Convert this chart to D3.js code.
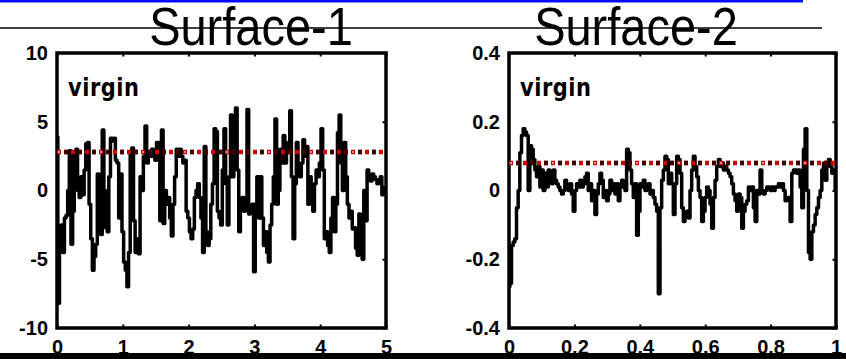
<!DOCTYPE html>
<html>
<head>
<meta charset="utf-8">
<script src="https://cdn.jsdelivr.net/npm/d3@7"></script>
<style>
  body { margin: 0; background: #fff; }
  svg { display: block; }
  .tick text { font-family: "Liberation Sans", Arial, sans-serif; font-weight: bold; font-size: 20px; fill: #000; }
</style>
</head>
<body>
<svg width="846" height="359"></svg>
<script>
const width = 846;
const height = 359;

// surface-1 profile, 0..5, evenly sampled
const surface1 = [
  3.9, -8.2, -3, -2.5, -4.5, -2, -1.8, 0, 2.9, -3.9,
  -1.5, 2.8, 3, 0, -0.5, 1, -0.3, 1.5, 3.4, 3.5,
  -1, -3.5, -5.8, -4.8, -3.9, 1.2, -2, -3.2, 4.4, 0,
  -2.7, -3, 1, 3.8, 3.6, 3.8, 2.2, 2, -2, 1.2,
  -3, -5.2, -5.8, -7, -4.5, 2.8, 3.1, -2.2, -4.5, -3.5,
  -4.6, 1, 0, 2.5, 4.7, 2, 2.7, 2.5, 3, 2.5,
  2.2, 3.5, 3.5, -2.2, 4.4, -2.4, 0, -1, -0.5, -2,
  -3.3, -1, 1, 3, 2.5, 3, 2.5, 2, 2.2, -1.5,
  -2, -3, -3.5, -2.8, -0.5, 0, 0.5, -0.5, -2, -4.5,
  3.2, -3, -4, -3.5, -1, 0.5, 4.5, 4.3, -1.5, -2,
  -2.5, 1.5, 4.5, 0.5, -2.5, 1, 5.5, 1, 2.5, 6,
  1.5, -3, -1, -0.5, -1.5, -1, 5.9, -1.7, -1.5, -1,
  -5.9, -1, 1, -2, 1, -2, -4, -3, -4.5, -5.2,
  -2.5, -1, 1, 5.2, -1, 0, 3, 2, 4, 2,
  3, 3.5, 5.8, 1, -3.5, 0.5, 3.5, 1.5, 1, 2,
  3.7, 2.5, 3.2, -1, 1, 0, -1.5, 0.5, 1.5, 1,
  2, 4.5, 1.5, -3.5, -3, -4, -4.5, -2, -0.5, -3,
  -1, 4.2, 5.5, 2, 0, 3.5, 1, -1, -2, -1.5,
  -2.8, -2.7, -4.2, -4.7, -1.7, -3, -5, 0, -2.2, 1.5,
  1, 0.7, 1.2, 1, 0.8, 0.5, 0.8, 1, -0.3, 0.2,
  0
];

// surface-2 profile, 0..1, evenly sampled
const surface2 = [
  -0.28, -0.27, -0.16, -0.15, -0.14, -0.05, 0, 0.11, 0.16, 0.18,
  0.17, 0.16, 0, 0.13, 0.12, 0.09, 0.06, 0.04, 0.07, 0.01,
  0.06, 0, 0.05, 0.01, 0.06, 0.05, 0.02, 0.06, 0.03, 0.02,
  0.01, 0, -0.01, 0, 0.03, 0.01, 0, 0.02, -0.01, -0.06,
  0, 0.02, 0.01, 0.03, 0.01, 0.02, 0.04, 0.05, 0, 0.02,
  -0.03, 0, -0.07, -0.01, 0.02, 0.05, 0.03, -0.02, 0, -0.03,
  -0.01, 0.03, 0, 0.02, -0.01, 0.02, -0.03, 0.01, 0.03, 0.01,
  0, 0.12, 0.11, 0.06, 0.02, -0.02, 0.02, -0.13, -0.06, 0.02,
  0.01, 0.03, 0, 0.01, 0.02, -0.01, 0, -0.02, -0.04, -0.06,
  -0.3, -0.05, 0.03, 0.06, 0.1, 0.09, 0.02, 0.05, 0.02, -0.07,
  0.02, 0.1, 0.09, 0.05, -0.05, -0.09, -0.07, -0.06, -0.08, 0,
  0.06, 0.1, 0.07, 0.04, 0, -0.02, -0.09, -0.06, -0.02, 0.01,
  0, -0.04, -0.11, -0.02, 0.03, 0.07, 0.09, 0.07, 0.08, 0.06,
  0.07, 0.06, 0.05, 0.04, 0.02, -0.01, -0.03, -0.06, -0.01, -0.02,
  -0.11, -0.06, -0.04, -0.03, 0.01, 0, 0.01, -0.05, -0.09, 0,
  -0.01, 0.06, 0, -0.01, 0, 0.01, 0.01, 0, 0.01, 0,
  0.01, 0.01, 0.02, 0.01, 0.02, 0, -0.03, -0.02, -0.02, -0.09,
  0.05, 0.06, 0.06, 0.05, 0.06, 0.01, -0.05, 0.12, 0.18, 0,
  -0.18, -0.2, -0.12, -0.1, -0.07, -0.05, -0.02, 0, 0.06, 0.08,
  0.03, 0.08, 0.09, 0.07, 0.05, 0.06, 0
];

const titles = ["Surface-1", "Surface-2"];
const labels = ["virgin", "virgin"];
const means = [2.8, 0.08];
const xTicks1 = [0, 1, 2, 3, 4, 5];
const yTicks1 = [-10, -5, 0, 5, 10];
const xTicks2 = [0, 0.2, 0.4, 0.6, 0.8, 1];
const yTicks2 = [-0.4, -0.2, 0, 0.2, 0.4];

const panels = [
  { values: surface1, xMax: 5, yMax: 10, xTicks: xTicks1, yTicks: yTicks1, left: 57, right: 386, titleX: 251 },
  { values: surface2, xMax: 1, yMax: 0.4, xTicks: xTicks2, yTicks: yTicks2, left: 509, right: 836, titleX: 636 }
];

const plotTop = 53, plotBottom = 328;

const svg = d3.select("svg");

// header rules
svg.append("rect")
  .attr("x", 0).attr("y", 0)
  .attr("width", 803).attr("height", 2.5)
  .attr("fill", "#0a0aff");

svg.append("line")
  .attr("x1", 0).attr("x2", 822)
  .attr("y1", 28).attr("y2", 28)
  .attr("stroke", "#000")
  .attr("stroke-width", 1.5);

panels.forEach((p, k) => {
  const x = d3.scaleLinear().domain([0, p.xMax]).range([p.left, p.right]);
  const y = d3.scaleLinear().domain([-p.yMax, p.yMax]).range([plotBottom, plotTop]);
  const dx = p.xMax / (p.values.length - 1);

  const g = svg.append("g");

  // title, slightly condensed like the scanned original
  svg.append("text")
    .attr("transform", `translate(${p.titleX},45) scale(0.94,1.06)`)
    .attr("text-anchor", "middle")
    .style("font-family", "'Liberation Sans', Arial, sans-serif")
    .style("font-size", "50px")
    .text(titles[k]);

  // axes
  const fmt = d => String(d);
  g.append("g")
    .attr("transform", `translate(${p.left},0)`)
    .call(d3.axisLeft(y).tickValues(p.yTicks).tickFormat(fmt).tickSize(0).tickPadding(9))
    .call(a => a.select(".domain").remove());

  g.append("g")
    .attr("transform", `translate(0,${plotBottom})`)
    .call(d3.axisBottom(x).tickValues(p.xTicks).tickFormat(fmt).tickSize(-3.5).tickPadding(12))
    .call(a => a.select(".domain").remove())
    .call(a => a.selectAll("line").attr("stroke-width", 2));

  g.append("g")
    .attr("transform", `translate(0,${plotTop})`)
    .call(d3.axisTop(x).tickValues(p.xTicks).tickFormat("").tickSize(-3.5))
    .call(a => a.select(".domain").remove())
    .call(a => a.selectAll("line").attr("stroke-width", 2));

  g.append("g")
    .attr("transform", `translate(${p.right},0)`)
    .call(d3.axisRight(y).tickValues(p.yTicks).tickFormat("").tickSize(-3.5))
    .call(a => a.select(".domain").remove())
    .call(a => a.selectAll("line").attr("stroke-width", 2));

  // frame
  g.append("rect")
    .attr("x", p.left).attr("y", plotTop)
    .attr("width", p.right - p.left).attr("height", plotBottom - plotTop)
    .attr("fill", "none")
    .attr("stroke", "#000")
    .attr("stroke-width", 3.5);

  // label
  g.append("text")
    .attr("transform", `translate(${p.left + 11},96) scale(1,1.2)`)
    .style("font-family", "'DejaVu Sans', Verdana, sans-serif")
    .style("font-weight", "bold")
    .style("font-size", "21px")
    .style("letter-spacing", "0.5px")
    .text(labels[k]);

  // profile
  const line = d3.line()
    .curve(d3.curveStep)
    .x((d, i) => x(i * dx))
    .y(d => y(d));

  g.append("path")
    .datum(p.values)
    .attr("fill", "none")
    .attr("stroke", "#000")
    .attr("stroke-width", 3.5)
    .attr("stroke-linejoin", "round")
    .attr("d", line);

  // mean line (dotted, red and dark squares)
  const ym = y(means[k]);
  const mean = (color, w, dash, offset) => g.append("line")
    .attr("x1", p.left).attr("x2", p.right)
    .attr("y1", ym).attr("y2", ym)
    .attr("stroke", color)
    .attr("stroke-width", w)
    .attr("stroke-dasharray", dash)
    .attr("stroke-dashoffset", offset);

  mean("#d00000", 4.5, "4 3", 0);
  mean("#fff", 1.5, "1.5 19.5", -1.25);
  mean("#3a0000", 4.5, "4 10", -7);
});

// bottom bar
svg.append("rect")
  .attr("x", 0).attr("y", 353)
  .attr("width", width).attr("height", 6)
  .attr("fill", "#000");
</script>
</body>
</html>
